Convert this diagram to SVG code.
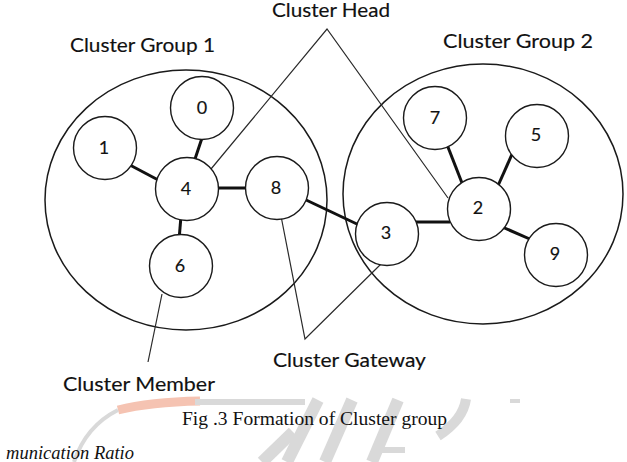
<svg xmlns="http://www.w3.org/2000/svg" width="627" height="462" viewBox="0 0 627 462">
  <style>
    .grp { fill: none; stroke: #1a1a1a; stroke-width: 1.5; }
    .node circle { fill: #ffffff; stroke: #1a1a1a; stroke-width: 1.4; }
    .num { font-family: Lato, "Open Sans", "Liberation Sans", sans-serif; font-size: 18px; fill: #111; stroke: #111; stroke-width: 0.15; text-anchor: middle; }
    .lbl { font-family: Lato, "Open Sans", "Liberation Sans", sans-serif; font-size: 18.5px; fill: #111; stroke: #111; stroke-width: 0.15; }
    .edge { stroke: #111; stroke-width: 3; stroke-linecap: butt; fill: none; }
    .lead { stroke: #2a2a2a; stroke-width: 1.2; fill: none; stroke-linejoin: miter; }
    .cap { font-family: "Liberation Serif", "Times New Roman", serif; font-size: 18.5px; fill: #111; }
    .wm { fill: none; stroke: #d9d9d9; stroke-linecap: butt; }
  </style>
  <rect width="627" height="462" fill="#ffffff"/>

  <g id="watermark">
    <path d="M200,401 Q150,402 118,410" stroke="#f5c3b2" stroke-width="9" fill="none"/>
    <path d="M118,410 Q86,426 74,462" class="wm" stroke-width="4"/>
    <path d="M195,402 L305,402" class="wm" stroke-width="6"/>
    <path d="M293,432 L262,462" class="wm" stroke-width="12"/>
    <path d="M318,400 L287,462" class="wm" stroke-width="12"/>
    <path d="M352,400 L325,462" class="wm" stroke-width="12"/>
    <path d="M398,400 L372,462" class="wm" stroke-width="12"/>
    <path d="M378,450 L405,450" class="wm" stroke-width="6"/>
    <path d="M466,399 Q463,420 438,436" class="wm" stroke-width="10"/>
    <path d="M510,401 L520,401" class="wm" stroke-width="4"/>
  </g>

  <g id="cluster-group-1">
    <ellipse class="grp" cx="186" cy="200" rx="141" ry="130"/>
    <text class="lbl" x="70" y="52" textLength="145" lengthAdjust="spacingAndGlyphs">Cluster Group 1</text>
  </g>
  <g id="cluster-group-2">
    <ellipse class="grp" cx="483" cy="194" rx="140" ry="130"/>
    <text class="lbl" x="443" y="48" textLength="150" lengthAdjust="spacingAndGlyphs">Cluster Group 2</text>
  </g>

  <g id="connectors">
    <line class="edge" x1="128" y1="164" x2="162" y2="182"/>
    <line class="edge" x1="203" y1="135" x2="194" y2="162"/>
    <line class="edge" x1="215" y1="188" x2="250" y2="188"/>
    <line class="edge" x1="181" y1="216" x2="179" y2="240"/>
    <line class="edge" x1="304" y1="199" x2="359" y2="225"/>
    <line class="edge" x1="416" y1="222" x2="450" y2="222"/>
    <line class="edge" x1="446" y1="142" x2="462" y2="183"/>
    <line class="edge" x1="513" y1="152" x2="497" y2="188"/>
    <line class="edge" x1="500" y1="226" x2="532" y2="240"/>
    <polyline class="lead" points="211,169 327,29 448,198"/>
    <polyline class="lead" points="281,216 305,339 381,264"/>
    <line class="lead" x1="162" y1="294" x2="148" y2="362"/>
  </g>

  <g id="node-0" class="node"><circle cx="202" cy="108" r="31.5"/><text class="num" x="202" y="114">0</text></g>
  <g id="node-1" class="node"><circle cx="105" cy="148" r="31.5"/><text class="num" x="104" y="154">1</text></g>
  <g id="node-4" class="node"><circle cx="187" cy="189" r="31.5"/><text class="num" x="186" y="195">4</text></g>
  <g id="node-8" class="node"><circle cx="277" cy="188" r="31.5"/><text class="num" x="276" y="194">8</text></g>
  <g id="node-6" class="node"><circle cx="181" cy="266" r="31.5"/><text class="num" x="180" y="272">6</text></g>
  <g id="node-7" class="node"><circle cx="435" cy="118" r="31.5"/><text class="num" x="435" y="124">7</text></g>
  <g id="node-5" class="node"><circle cx="537" cy="136" r="31.5"/><text class="num" x="536" y="141">5</text></g>
  <g id="node-2" class="node"><circle cx="479" cy="209" r="31.5"/><text class="num" x="478" y="214">2</text></g>
  <g id="node-3" class="node"><circle cx="387" cy="234" r="31.5"/><text class="num" x="386" y="239">3</text></g>
  <g id="node-9" class="node"><circle cx="556" cy="255" r="31.5"/><text class="num" x="555" y="260">9</text></g>

  <g id="label-cluster-head"><text class="lbl" x="272" y="17" textLength="118" lengthAdjust="spacingAndGlyphs">Cluster Head</text></g>
  <g id="label-cluster-gateway"><text class="lbl" x="273" y="367" textLength="153" lengthAdjust="spacingAndGlyphs">Cluster Gateway</text></g>
  <g id="label-cluster-member"><text class="lbl" x="63" y="391" textLength="152" lengthAdjust="spacingAndGlyphs">Cluster Member</text></g>

  <g id="caption">
    <text class="cap" x="182" y="425" textLength="265" lengthAdjust="spacingAndGlyphs">Fig .3 Formation of Cluster group</text>
    <text class="cap" x="134" y="459" font-size="19" font-style="italic" text-anchor="end">munication Ratio</text>
  </g>
</svg>
